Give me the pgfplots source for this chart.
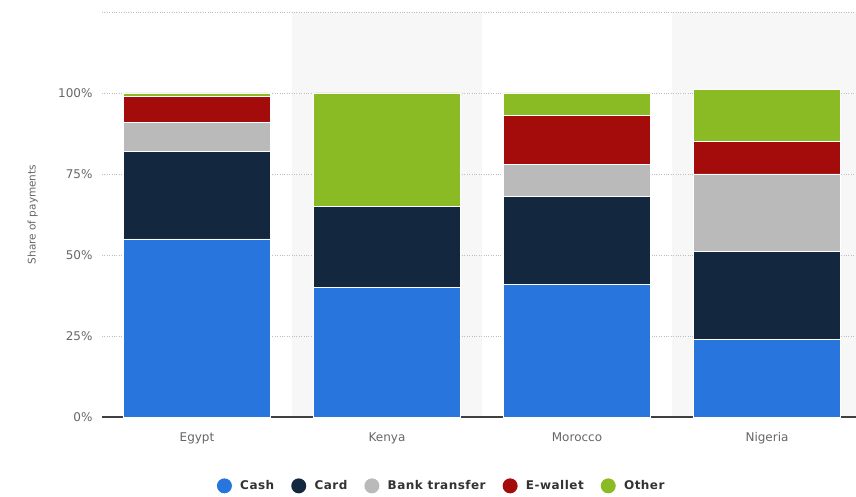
\documentclass[border=0pt]{standalone}
\usepackage{pgfplots}
\pgfplotsset{compat=1.18}
\usepackage{fontspec}
\setmainfont{DejaVu Sans}
\newfontfamily\legfont[LetterSpace=4]{DejaVu Sans}
\definecolor{cCash}{HTML}{2876DD}
\definecolor{cCard}{HTML}{13273F}
\definecolor{cBank}{HTML}{BABABA}
\definecolor{cEw}{HTML}{A40B0B}
\definecolor{cOther}{HTML}{8ABB25}
\definecolor{band}{HTML}{F7F7F7}
\definecolor{tick}{HTML}{666666}
\definecolor{leg}{HTML}{333333}
\pgfplotsset{
  circlegend/.style={legend image code/.code={\fill[##1,draw=none] (7.5pt,0pt) circle (7.5pt);\path (21pt,0pt);}}}
\begin{document}
\begin{tikzpicture}[x=1pt,y=1pt]
\useasboundingbox (0,0) rectangle (856,496);
% alternating column bands (Kenya, Nigeria)
\fill[band] (292,79) rectangle (482,484);
\fill[band] (672,79) rectangle (862,484);
\begin{axis}[
  at={(102pt,79pt)}, anchor=south west,
  scale only axis, width=760pt, height=405pt,
  xmin=-0.5, xmax=3.5, ymin=0, ymax=125,
  ybar stacked, bar width=0.774,
  axis x line*=bottom, axis y line*=left,
  x axis line style={draw=black!75, line width=1.3pt, -},
  y axis line style={draw=none},
  xtick=data, xticklabels={Egypt,Kenya,Morocco,Nigeria},
  ytick={0,25,50,75,100},
  yticklabel={\pgfmathprintnumber{\tick}\%},
  /pgf/number format/assume math mode=true,
  extra y ticks={125}, extra y tick labels={},
  extra y tick style={grid=major},
  tick style={draw=none},
  ymajorgrids, grid style={dotted, draw=black!25, line width=0.7pt},
  ticklabel style={font=\fontsize{12}{14}\selectfont, text=tick},
  yticklabel style={xshift=-6pt},
  xticklabel style={yshift=-12pt},
  ylabel={Share of payments},
  ylabel style={at={(axis description cs:-0.091,0.5)}, anchor=center,
    font=\fontsize{10.5}{12}\selectfont, text=tick},
  legend style={at={(axis description cs:0.447,-0.170)}, anchor=center, draw=none, fill=none,
    font=\legfont\bfseries\fontsize{12}{14}\selectfont, text=leg,
    /tikz/every even column/.append style={column sep=15pt}},
  legend columns=5, legend cell align=left,
]
\addplot[fill=cCash, draw=white, line width=0.6pt, circlegend] coordinates {(0,55) (1,40) (2,41) (3,24)};
\addplot[fill=cCard, draw=white, line width=0.6pt, circlegend] coordinates {(0,27) (1,25) (2,27) (3,27)};
\addplot[fill=cBank, draw=white, line width=0.6pt, circlegend] coordinates {(0,9) (1,0) (2,10) (3,24)};
\addplot[fill=cEw, draw=white, line width=0.6pt, circlegend] coordinates {(0,8) (1,0) (2,15) (3,10)};
\addplot[fill=cOther, draw=white, line width=0.6pt, circlegend] coordinates {(0,1) (1,35) (2,7) (3,16)};
\legend{Cash,Card,Bank transfer,E-wallet,Other}
\end{axis}
\end{tikzpicture}
\end{document}
